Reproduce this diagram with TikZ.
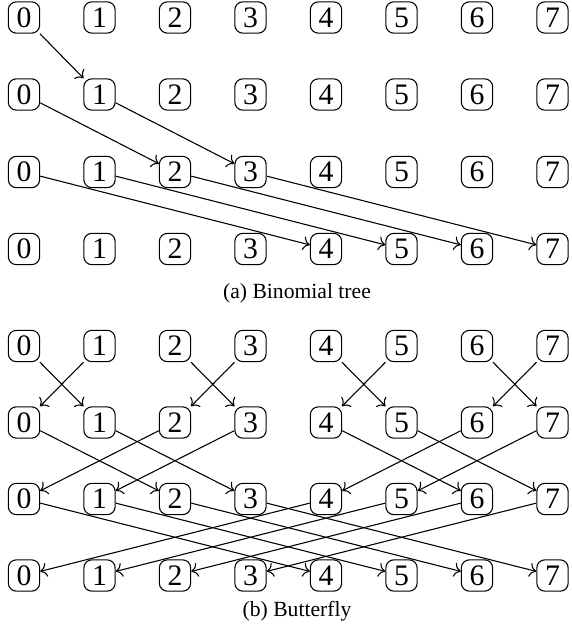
\documentclass[tikz,border=0pt]{standalone}
\usepackage{fontspec}
\setmainfont{Liberation Serif}
\usetikzlibrary{arrows.meta}
\tikzset{
  >={To},
  pe/.style={draw, rounded corners=3pt, minimum size=11.6pt, inner sep=0pt,
             font=\fontsize{11}{13}\selectfont},
  link/.style={->, thin},
  subcap/.style={font=\fontsize{8}{10}\selectfont},
}

\begin{document}
\begin{tikzpicture}[x=0.37pt, y=-0.37pt]
  \useasboundingbox (0,0) rectangle (571,627);
  % (a) binomial tree
  \foreach \r/\y in {0/17.5,1/94.5,2/172,3/249}
    \foreach \i in {0,...,7}
      \node[pe] (a\r-\i) at (24+75.5*\i,\y) {\i};
  \draw[link] (a0-0) -- (a1-1);
  \foreach \i [evaluate=\i as \j using int(\i+2)] in {0,1}
    \draw[link] (a1-\i) -- (a2-\j);
  \foreach \i [evaluate=\i as \j using int(\i+4)] in {0,...,3}
    \draw[link] (a2-\i) -- (a3-\j);
  \node[subcap] (capa) at (297,293) {(a) Binomial tree};

  % (b) butterfly
  \foreach \r/\y in {0/346,1/422.5,2/499,3/575.5}
    \foreach \i in {0,...,7}
      \node[pe] (b\r-\i) at (24+75.5*\i,\y) {\i};
  \foreach \r/\s in {0/1,1/2,2/4} {
    \pgfmathtruncatemacro\n{\r+1}
    \foreach \i in {0,...,7} {
      \pgfmathtruncatemacro\j{mod(floor(\i/\s),2)==0 ? \i+\s : \i-\s}
      \draw[link] (b\r-\i) -- (b\n-\j);
    }
  }
  \node[subcap] (capb) at (297,611) {(b) Butterfly};
\end{tikzpicture}
\end{document}
